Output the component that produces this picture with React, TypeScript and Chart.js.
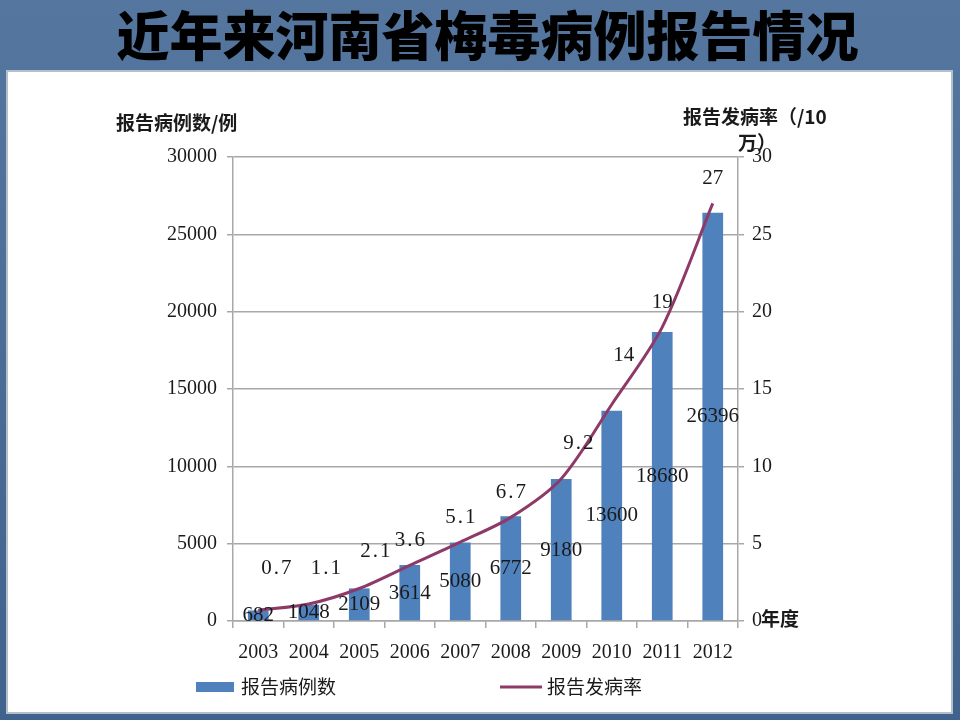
import React, { useEffect, useRef } from "react";
import Chart from "chart.js/auto";

// 河南省梅毒病例报告 bar + line chart (slide look)

const years = ["2003", "2004", "2005", "2006", "2007", "2008", "2009", "2010", "2011", "2012"];
const reportedCases = [682, 1048, 2109, 3614, 5080, 6772, 9180, 13600, 18680, 26396];
const incidenceRate = [0.7, 1.1, 2.1, 3.6, 5.1, 6.7, 9.2, 14, 19, 27];

const casesLabel = "报告病例数";
const rateLabel = "报告发病率";

const BAR_COLOR = "#4f81bd";
const LINE_COLOR = "#8e3a68";
const GRID_COLOR = "#a8a8a8";
const TEXT_COLOR = "#1a1a1a";
const SERIF = "'Liberation Serif', 'DejaVu Serif', serif";
const CJK = "'Noto Sans CJK SC', 'Noto Sans', sans-serif";

// the slide nudges a few rate labels off the plain "above" spot
const rateLabelNudge: [number, number][] = [
  [18, -17], [17, -11], [16, -12], [0, 0], [0, 0],
  [0, 0], [17, -10], [12, -24], [0, 0], [0, 0],
];

const labelsPlugin = {
  id: "labelsPlugin",
  afterDatasetsDraw(chart: Chart) {
    const { ctx } = chart;
    const yLeft = chart.scales.y;
    ctx.save();
    ctx.fillStyle = TEXT_COLOR;
    ctx.textAlign = "center";
    ctx.textBaseline = "middle";
    ctx.font = `21px ${SERIF}`;

    // bar values, centred in each bar
    chart.getDatasetMeta(1).data.forEach((el: any, i: number) => {
      const v = reportedCases[i];
      ctx.fillText(String(v), el.x, yLeft.getPixelForValue(v / 2));
    });

    // rate values, above the line
    chart.getDatasetMeta(0).data.forEach((el: any, i: number) => {
      const text = String(incidenceRate[i]);
      const [dx, dy] = rateLabelNudge[i] || [0, 0];
      (ctx as any).letterSpacing = text.includes(".") ? "2px" : "0px";
      ctx.fillText(text, el.x + dx + (text.includes(".") ? 1 : 0), el.y - 25 + dy);
    });
    (ctx as any).letterSpacing = "0px";
    ctx.restore();
  },
  afterDraw(chart: Chart) {
    const { ctx, chartArea } = chart;
    const { left, right, top, bottom } = chartArea;
    ctx.save();
    ctx.fillStyle = TEXT_COLOR;
    ctx.textBaseline = "middle";
    ctx.textAlign = "left";

    // axis titles
    ctx.font = `bold 19px ${CJK}`;
    ctx.fillText("报告病例数/例", left - 117, top - 34);
    ctx.fillText("报告发病率（/10", right - 55, top - 40);
    ctx.fillText("万）", right, top - 14);
    ctx.fillText("年度", right + 23, bottom - 2);

    // legend
    const ly = bottom + 66;
    ctx.font = `19px ${CJK}`;
    ctx.fillStyle = BAR_COLOR;
    ctx.fillRect(left - 37, ly - 5, 38, 10);
    ctx.fillStyle = TEXT_COLOR;
    ctx.fillText(casesLabel, left + 8, ly);

    ctx.strokeStyle = LINE_COLOR;
    ctx.lineWidth = 3;
    ctx.beginPath();
    ctx.moveTo(left + 267, ly);
    ctx.lineTo(left + 309, ly);
    ctx.stroke();
    ctx.fillText(rateLabel, left + 314, ly);
    ctx.restore();
  },
};

function ComboChart() {
  const canvasRef = useRef<HTMLCanvasElement>(null);

  useEffect(() => {
    if (!canvasRef.current) return;
    const chart = new Chart(canvasRef.current, {
      type: "bar",
      data: {
        labels: years,
        datasets: [
          {
            type: "line",
            label: rateLabel,
            data: incidenceRate,
            yAxisID: "y1",
            borderColor: LINE_COLOR,
            borderWidth: 3,
            tension: 0.3,
            pointRadius: 0,
            fill: false,
            order: 1,
          },
          {
            type: "bar",
            label: casesLabel,
            data: reportedCases,
            yAxisID: "y",
            backgroundColor: BAR_COLOR,
            barPercentage: 0.41,
            categoryPercentage: 1,
            order: 2,
          },
        ],
      },
      options: {
        responsive: false,
        animation: false,
        layout: { padding: { left: 123, right: 162, top: 157, bottom: 49 } },
        plugins: {
          legend: { display: false },
          tooltip: { enabled: false },
        },
        scales: {
          x: {
            offset: true,
            grid: {
              offset: true,
              drawOnChartArea: false,
              drawTicks: true,
              tickLength: 7,
              color: GRID_COLOR,
              lineWidth: 1.5,
            },
            border: { color: GRID_COLOR, width: 1.5 },
            ticks: { color: TEXT_COLOR, font: { family: SERIF, size: 20 }, padding: 13, maxRotation: 0 },
            afterFit: (s: any) => {
              s.height = 50;
            },
          },
          y: {
            position: "left",
            min: 0,
            max: 30000,
            ticks: {
              stepSize: 5000,
              color: TEXT_COLOR,
              font: { family: SERIF, size: 20 },
              padding: 10,
              callback: (v: any) => String(v),
            },
            grid: { color: GRID_COLOR, lineWidth: 1.5, tickLength: 6 },
            border: { color: GRID_COLOR, width: 1.5 },
            afterFit: (s: any) => {
              s.width = 110;
            },
          },
          y1: {
            position: "right",
            min: 0,
            max: 30,
            ticks: {
              stepSize: 5,
              color: TEXT_COLOR,
              font: { family: SERIF, size: 20 },
              padding: 8,
              callback: (v: any) => String(v),
            },
            grid: { drawOnChartArea: false, color: GRID_COLOR, lineWidth: 1.5, tickLength: 6 },
            border: { color: GRID_COLOR, width: 1.5 },
            afterFit: (s: any) => {
              s.width = 60;
            },
          },
        },
      },
      plugins: [labelsPlugin],
    });
    return () => chart.destroy();
  }, []);

  return <canvas ref={canvasRef} width={960} height={720} style={{ position: "absolute", left: 0, top: 0 }} />;
}

export default function App() {
  return (
    <div
      style={{
        position: "fixed",
        left: 0,
        top: 0,
        width: 960,
        height: 720,
        overflow: "hidden",
        background: "linear-gradient(180deg, #55779f 0%, #4b6c95 50%, #41628c 100%)",
      }}
    >
      <div
        style={{
          position: "absolute",
          left: 0,
          top: 0,
          width: 975,
          height: 68,
          lineHeight: "66px",
          textAlign: "center",
          fontFamily: CJK,
          fontWeight: 900,
          fontSize: 53,
          color: "#000",
          whiteSpace: "nowrap",
        }}
      >
        近年来河南省梅毒病例报告情况
      </div>
      <div
        style={{
          position: "absolute",
          left: 8,
          top: 72,
          width: 943,
          height: 640,
          background: "#fff",
          boxShadow: "0 0 0 2px #b4bfcc",
        }}
      />
      <ComboChart />
    </div>
  );
}
